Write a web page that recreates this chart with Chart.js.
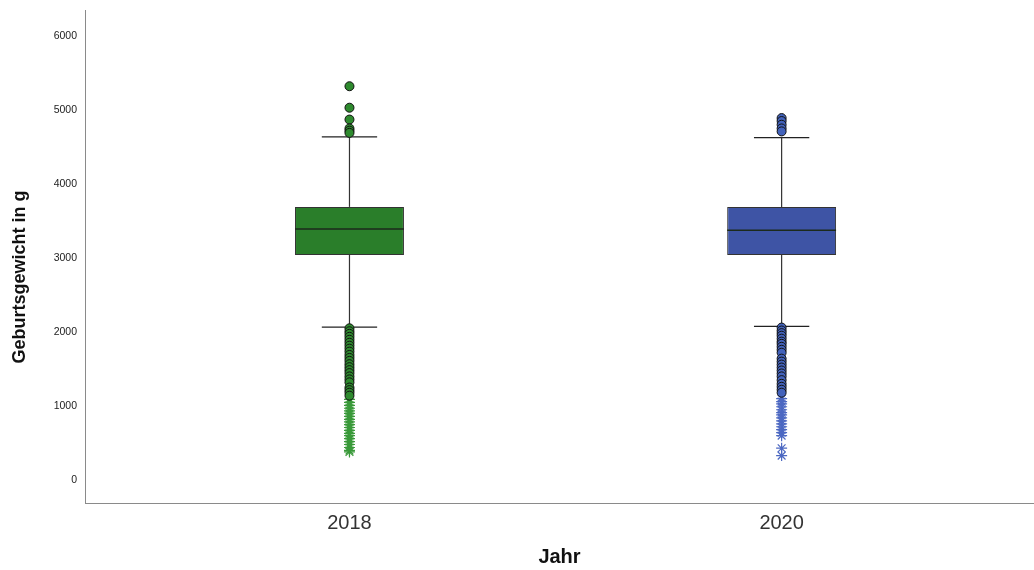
<!DOCTYPE html>
<html>
<head>
<meta charset="utf-8">
<script src="https://cdn.jsdelivr.net/npm/chart.js@4.4.1/dist/chart.umd.min.js"></script>
<style>
  html, body { margin: 0; padding: 0; background: #fff; }
  #wrap { width: 1034px; height: 570px; position: relative; }
</style>
</head>
<body>
<div id="wrap"><canvas id="c" width="1034" height="570"></canvas></div>
<script>
// ---- data ----
const categories = ['2018', '2020'];
const q1 = [3040, 3040];
const q3 = [3690, 3690];
const medians = [3390, 3375];
const whiskerLow = [2065, 2075];
const whiskerHigh = [4635, 4625];
const outliersHigh2018 = [5320, 5030, 4870, 4750, 4720, 4690];
const outliersLow2018 = [2050, 2010, 1975, 1935, 1895, 1855, 1815, 1775, 1735, 1690, 1650, 1610, 1565, 1525, 1485, 1445, 1400, 1360, 1320, 1250, 1215, 1180, 1140];
const extremes2018 = [1090, 1050, 1010, 970, 935, 900, 860, 820, 785, 750, 710, 670, 630, 600, 560, 520, 480, 440, 400, 380];
const outliersHigh2020 = [4890, 4850, 4800, 4750, 4710];
const outliersLow2020 = [2060, 2020, 1985, 1950, 1910, 1870, 1840, 1800, 1760, 1720, 1640, 1600, 1560, 1520, 1480, 1440, 1400, 1350, 1300, 1260, 1220, 1180];
const extremes2020 = [1100, 1060, 1030, 990, 950, 910, 880, 840, 800, 760, 720, 680, 640, 600, 430, 330];
const yTicks = [0, 1000, 2000, 3000, 4000, 5000, 6000];
const yTitle = 'Geburtsgewicht in g';
const xTitle = 'Jahr';

// ---- styling ----
const boxColors = ['#2a7e2a', '#3e54a5'];
const circleColors = ['#2e8a2e', '#4262bb'];
const starColors = ['#3a9a3a', '#4c68c2'];
const BOX_HALF = 0.126;
const CAP_HALF = 0.064;
const FONT = '"Liberation Sans", Arial, sans-serif';

const outHigh = [outliersHigh2018, outliersHigh2020];
const outLow = [outliersLow2018, outliersLow2020];
const extremes = [extremes2018, extremes2020];

const datasets = [];
datasets.push({
  type: 'bar',
  data: categories.map((c, i) => ({ x: i, y: [q1[i], q3[i]] })),
  backgroundColor: boxColors,
  borderColor: '#333',
  borderWidth: 1,
  borderSkipped: false,
  categoryPercentage: 1,
  barPercentage: BOX_HALF * 2,
  order: 5
});
categories.forEach((c, i) => {
  const lineStyle = { type: 'line', borderColor: '#333', borderWidth: 1.2, pointRadius: 0, fill: false, order: 6 };
  datasets.push(Object.assign({}, lineStyle, { data: [{ x: i, y: q3[i] }, { x: i, y: whiskerHigh[i] }] }));
  datasets.push(Object.assign({}, lineStyle, { data: [{ x: i, y: q1[i] }, { x: i, y: whiskerLow[i] }] }));
  datasets.push(Object.assign({}, lineStyle, { borderColor: '#222', data: [{ x: i - CAP_HALF, y: whiskerHigh[i] }, { x: i + CAP_HALF, y: whiskerHigh[i] }] }));
  datasets.push(Object.assign({}, lineStyle, { borderColor: '#222', data: [{ x: i - CAP_HALF, y: whiskerLow[i] }, { x: i + CAP_HALF, y: whiskerLow[i] }] }));
  datasets.push(Object.assign({}, lineStyle, { borderColor: '#1c2a1c', borderWidth: 1.5, order: 1, data: [{ x: i - BOX_HALF, y: medians[i] }, { x: i + BOX_HALF, y: medians[i] }] }));
  datasets.push({
    type: 'scatter',
    data: outHigh[i].concat(outLow[i]).map(v => ({ x: i, y: v })),
    pointStyle: 'circle', pointRadius: 4.5, borderWidth: 1,
    backgroundColor: circleColors[i], borderColor: '#111', order: 0
  });
  datasets.push({
    type: 'scatter',
    data: extremes[i].map(v => ({ x: i, y: v })),
    pointStyle: 'star', pointRadius: 5.5, borderWidth: 1.2,
    backgroundColor: starColors[i], borderColor: starColors[i], order: 0
  });
});

const yTitlePlugin = {
  id: 'yTitle',
  afterDraw(chart) {
    const ctx = chart.ctx;
    ctx.save();
    ctx.translate(20, 277);
    ctx.rotate(-Math.PI / 2);
    ctx.font = 'bold 18px ' + FONT;
    ctx.fillStyle = '#111';
    ctx.textAlign = 'center';
    ctx.textBaseline = 'middle';
    ctx.fillText(yTitle, 0, 0);
    ctx.restore();
  }
};

new Chart(document.getElementById('c'), {
  type: 'bar',
  data: { datasets },
  plugins: [yTitlePlugin],
  options: {
    responsive: false,
    animation: false,
    events: [],
    layout: { autoPadding: false, padding: { left: 0, top: 10, right: 0, bottom: 0 } },
    plugins: { legend: { display: false }, tooltip: { enabled: false } },
    scales: {
      x: {
        type: 'linear',
        offset: false,
        min: -0.612,
        max: 1.584,
        grid: { display: false, drawTicks: false },
        border: { display: true, color: '#8a8a8a', width: 1 },
        afterBuildTicks: (s) => { s.ticks = categories.map((c, i) => ({ value: i })); },
        afterFit: (s) => { s.height = 67; s.paddingLeft = 0; s.paddingRight = 0; },
        ticks: {
          padding: 8,
          color: '#333',
          font: { family: FONT, size: 20 },
          callback: (v) => categories[v] !== undefined ? categories[v] : ''
        },
        title: {
          display: true, text: xTitle, color: '#111',
          font: { family: FONT, size: 20, weight: 'bold' },
          padding: { top: 0, bottom: 1 }
        }
      },
      y: {
        type: 'linear',
        min: -310,
        max: 6350,
        grid: { display: false, drawTicks: false },
        border: { display: true, color: '#8a8a8a', width: 1 },
        afterBuildTicks: (s) => { s.ticks = yTicks.map(v => ({ value: v })); },
        afterFit: (s) => { s.width = 85; s.paddingTop = 0; s.paddingBottom = 0; },
        ticks: {
          padding: 8,
          color: '#222',
          font: { family: FONT, size: 10.5 },
          callback: (v) => String(v)
        }
      }
    }
  }
});
</script>
</body>
</html>
